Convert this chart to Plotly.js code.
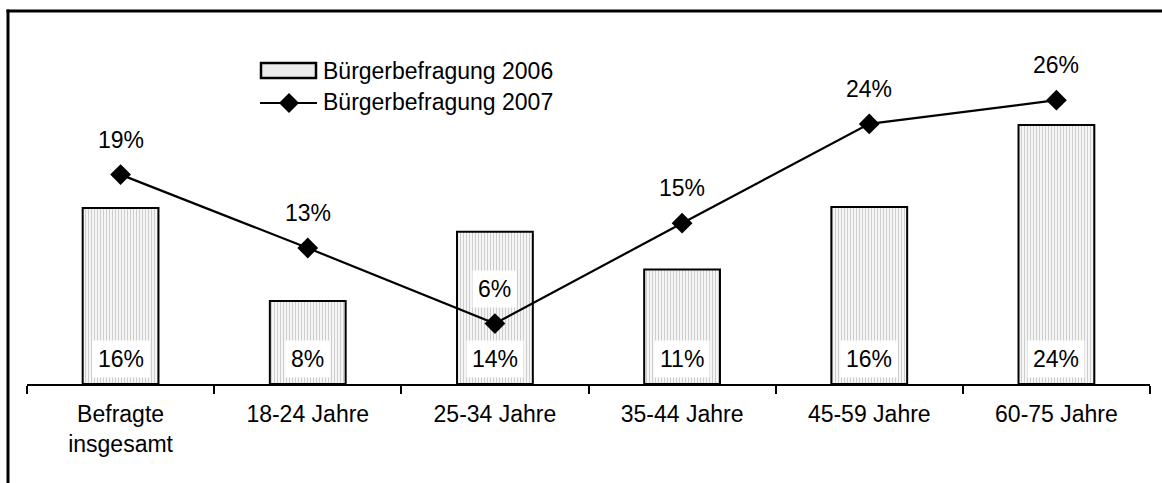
<!DOCTYPE html>
<html>
<head>
<meta charset="utf-8">
<script src="https://cdn.plot.ly/plotly-3.0.1.min.js"></script>
<style>html,body{margin:0;padding:0;background:#fff;}#chart{width:1162px;height:483px;}</style>
</head>
<body>
<div id="chart"></div>
<script>
// ---- data ----
const categories = ["Befragte<br>insgesamt", "18-24 Jahre", "25-34 Jahre", "35-44 Jahre", "45-59 Jahre", "60-75 Jahre"];
const values2006 = [16.3, 7.7, 14.1, 10.6, 16.4, 24.0];
const values2007 = [19.4, 12.6, 5.6, 14.9, 24.1, 26.3];
const seriesNames = ["Bürgerbefragung 2006", "Bürgerbefragung 2007"];

// ---- layout constants ----
const W = 1162, H = 483;
const M = {l: 27, r: 12, t: 30, b: 99};
const FONT = "Arial, 'Liberation Sans', sans-serif";
const FS = 23;
const pw = W - M.l - M.r, ph = H - M.t - M.b;
const px = x => (x - M.l) / pw;          // pixel -> paper x
const py = y => (H - M.b - y) / ph;      // pixel -> paper y

const traces = [
  {
    type: "bar", x: categories, y: values2006, name: seriesNames[0],
    width: 0.405,
    marker: {
      color: "#e9e9e9",
      pattern: {shape: "|", size: 3, solidity: 0.35, fgcolor: "#cdcdcd", bgcolor: "#f6f6f6"},
      line: {color: "#000", width: 2}
    },
    showlegend: false, hoverinfo: "skip"
  },
  {
    type: "scatter", mode: "lines+markers", x: categories, y: values2007, name: seriesNames[1],
    line: {color: "#000", width: 2.2},
    marker: {symbol: "diamond", size: 16, color: "#000"},
    showlegend: false, hoverinfo: "skip"
  }
];

const annotations = [];
categories.forEach((c, i) => {
  annotations.push({
    x: c, y: 0, xref: "x", yref: "y", yanchor: "middle", yshift: 25,
    text: Math.round(values2006[i]) + "%", showarrow: false,
    bgcolor: "#fff", borderpad: 5, font: {family: FONT, size: FS, color: "#000"}
  });
  annotations.push({
    x: c, y: values2007[i], xref: "x", yref: "y", yanchor: "middle", yshift: 35,
    text: Math.round(values2007[i]) + "%", showarrow: false,
    bgcolor: "#fff", borderpad: 5, font: {family: FONT, size: FS, color: "#000"}
  });
});
// legend text
annotations.push({x: px(321), y: py(70.5), xref: "paper", yref: "paper", xanchor: "left", yanchor: "middle",
  text: seriesNames[0], showarrow: false, font: {family: FONT, size: FS, color: "#000"}});
annotations.push({x: px(321), y: py(102), xref: "paper", yref: "paper", xanchor: "left", yanchor: "middle",
  text: seriesNames[1], showarrow: false, font: {family: FONT, size: FS, color: "#000"}});

const shapes = [
  // outer frame (top + left visible only)
  {type: "line", xref: "paper", yref: "paper", x0: px(6.5), x1: px(1300), y0: py(11), y1: py(11),
   line: {color: "#000", width: 3}, layer: "above"},
  {type: "line", xref: "paper", yref: "paper", x0: px(8), x1: px(8), y0: py(9.5), y1: py(600),
   line: {color: "#000", width: 3}, layer: "above"},
  // legend swatch for bars
  {type: "rect", xref: "paper", yref: "paper", x0: px(261), x1: px(316), y0: py(63), y1: py(78),
   line: {color: "#000", width: 2.5}, fillcolor: "#ebebeb"},
  // legend line
  {type: "line", xref: "paper", yref: "paper", x0: px(260), x1: px(317), y0: py(103), y1: py(103),
   line: {color: "#000", width: 2.2}},
  // legend diamond
  {type: "path", xref: "paper", yref: "paper", xsizemode: "pixel", ysizemode: "pixel",
   xanchor: px(289), yanchor: py(103), path: "M0,-10L10,0L0,10L-10,0Z",
   fillcolor: "#000", line: {color: "#000", width: 0}}
];

const layout = {
  width: W, height: H,
  margin: M,
  paper_bgcolor: "#fff", plot_bgcolor: "#fff",
  font: {family: FONT, size: FS, color: "#000"},
  showlegend: false,
  xaxis: {
    type: "category", showgrid: false, zeroline: false,
    showline: true, linecolor: "#000", linewidth: 2,
    ticks: "outside", tickson: "boundaries", ticklen: 8, tickwidth: 2, tickcolor: "#000",
    ticklabelstandoff: 8,
    tickfont: {family: FONT, size: FS, color: "#000"}, range: [-0.5, 5.5]
  },
  yaxis: {range: [0, 32.8], visible: false, showgrid: false, zeroline: false},
  annotations: annotations,
  shapes: shapes
};

Plotly.newPlot("chart", traces, layout, {staticPlot: true, displayModeBar: false});
</script>
</body>
</html>
